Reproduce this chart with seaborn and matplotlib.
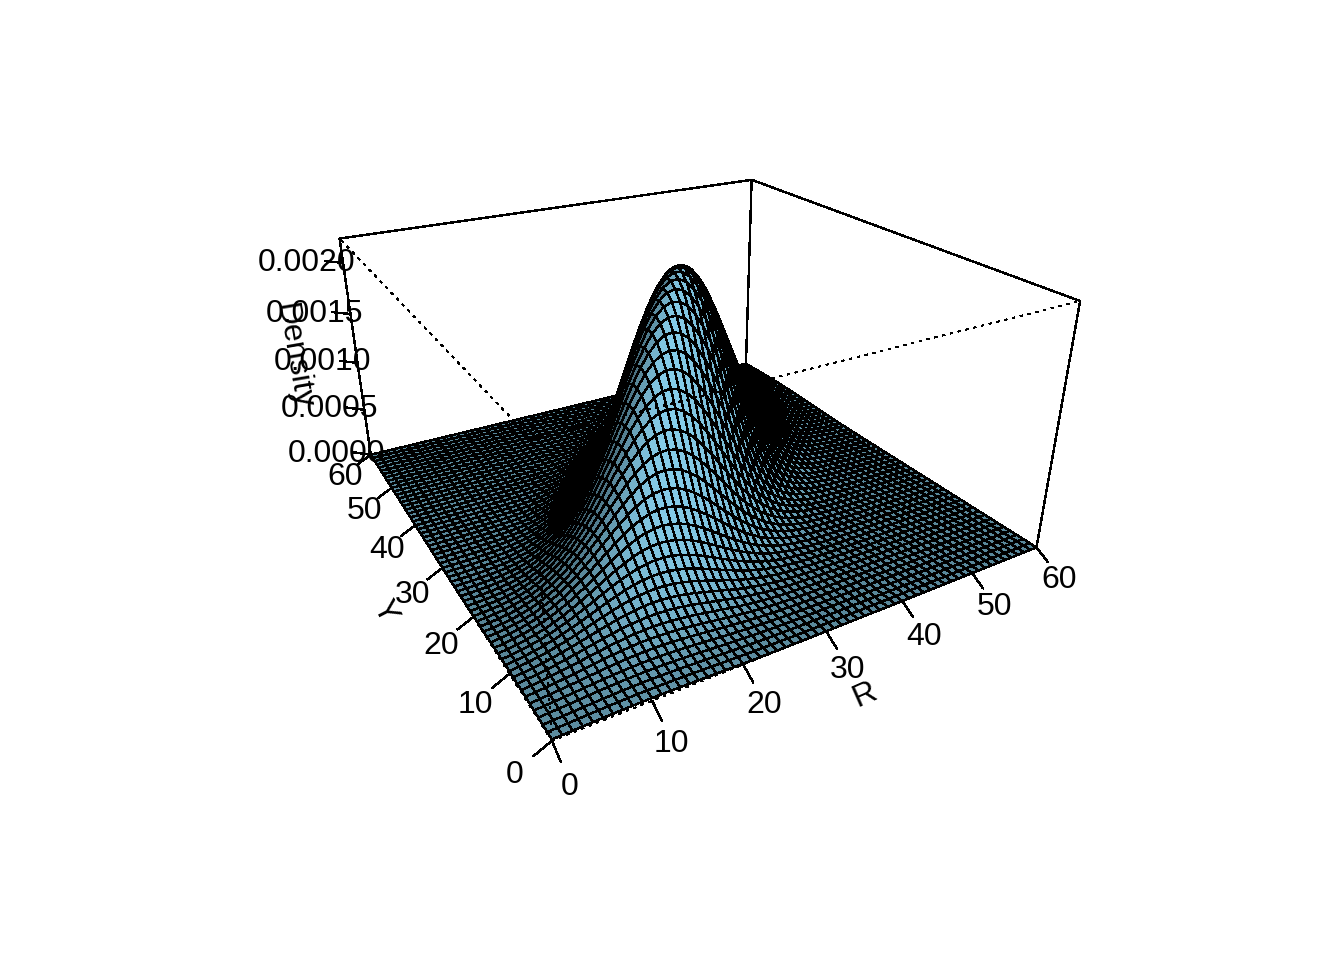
import numpy as np
import matplotlib
matplotlib.use('Agg')
import matplotlib.pyplot as plt
import seaborn as sns
from mpl_toolkits.mplot3d import proj3d

# density, relative to the peak at R = Y = 30:
# along the ridge by |R + Y - 60|, across the ridge by |R - Y|
along_ridge = [1.000, .9985, .9941, .9868, .9767, .9639, .9484, .9305, .9102, .8877, .8633, .8371, .8094, .7802, .7499, .7186,
               .6866, .6538, .6210, .5881, .5553, .5228, .4908, .4594, .4287, .3989, .3700, .3423, .3157, .2903, .2662, .2434,
               .2218, .2016, .1827, .1650, .1487, .1335, .1196, .1068, .0951, .0844, .0747, .0659, .0580, .0509, .0445, .0388,
               .0338, .0293, .0253, .0218, .0187, .0161, .0137, .0117, .0099, .0084, .0071, .0060, .0050]
across_ridge = [1.000, .9917, .9672, .9277, .8752, .8119, .7408, .6647, .5866, .5092, .4346, .3649, .3012, .2445, .1953, .1534,
                .1185, .0900, .0672, .0494, .0357, .0253, .0177, .0122, .0082, .0055, .0036, .0023, .0015, .0009, .0006, .0003,
                .0002, .0001, .0001, 0, 0, 0, 0, 0, 0, 0, 0, 0, 0, 0, 0, 0, 0, 0, 0, 0, 0, 0, 0, 0, 0, 0, 0, 0, 0]
peak_density = 0.00223

r_grid = list(range(0, 61))
y_grid = list(range(0, 61))
r_ticks = [0, 10, 20, 30, 40, 50, 60]
y_ticks = [0, 10, 20, 30, 40, 50, 60]
z_ticks = [0.0, 0.0005, 0.0010, 0.0015, 0.0020]
z_tick_labels = ['0.0000', '0.0005', '0.0010', '0.0015', '0.0020']

sns.set_theme(style='white')
plt.rcParams['font.family'] = ['Liberation Sans', 'DejaVu Sans']
plt.rcParams['text.color'] = 'black'
plt.rcParams['lines.antialiased'] = False

# view and box, same as persp(theta = -30, phi = 25)
Z_ASPECT = 0.4973
fig = plt.figure(figsize=(13.44, 9.6), dpi=100)
ax = fig.add_axes([296.5 / 1344, 190.8 / 960, 741.8 / 1344, 741.8 / 960], projection='3d', computed_zorder=False)
ax.set_xlim(0, 60)
ax.set_ylim(0, 60)
ax.set_zlim(0, peak_density)
ax.view_init(elev=25, azim=-120)
ax.set_proj_type('persp', focal_length=0.2544)
ax.set_box_aspect((1, 1, Z_ASPECT))
ax.set_axis_off()
M = ax.get_proj()

R, Y = np.meshgrid(r_grid, y_grid)
Z = peak_density * np.array(along_ridge)[np.abs(R + Y - 60)] * np.array(across_ridge)[np.abs(R - Y)]

# facet shading like persp: normals in box units, light from the front
dzdy, dzdx = np.gradient(Z / peak_density * Z_ASPECT, 1 / 60, 1 / 60)
norm = np.sqrt(dzdx ** 2 + dzdy ** 2 + 1)
light = np.array([0.0, -0.95, 0.32])
cosang = (-dzdx * light[0] - dzdy * light[1] + light[2]) / norm
shade = np.clip((1 + cosang) / 2, 0, 1)
base = np.array(matplotlib.colors.to_rgb('skyblue'))
fc = np.dstack([shade * base[0], shade * base[1], shade * base[2], np.ones_like(shade)])

surf = ax.plot_surface(R, Y, Z, rstride=1, cstride=1, facecolors=fc, shade=False, linewidth=1.0, zorder=2)
surf.set_edgecolor('black')
surf.set_antialiased(False)
surf.set_clip_on(False)

x0, x1 = r_grid[0], r_grid[-1]
y0, y1 = y_grid[0], y_grid[-1]
zt = peak_density
back = [((x0, y1, 0), (x0, y1, zt)), ((x0, y1, zt), (x1, y1, zt)), ((x1, y1, zt), (x1, y0, zt)),
        ((x1, y0, zt), (x1, y0, 0)), ((x1, y1, zt), (x1, y1, 0)), ((x0, y1, 0), (x1, y1, 0)), ((x1, y0, 0), (x1, y1, 0))]
front = [((x0, y0, zt), (x0, y1, zt)), ((x0, y0, zt), (x1, y0, zt)), ((x0, y0, 0), (x0, y0, zt)),
         ((x0, y0, 0), (x1, y0, 0)), ((x0, y0, 0), (x0, y1, 0))]
for a, b in back:
    ax.plot(*zip(a, b), color='black', lw=1.0, zorder=1, clip_on=False)
for a, b in front:
    ax.plot(*zip(a, b), color='black', lw=1.0, ls=(0, (2, 4)), zorder=3, clip_on=False)


# place a label at a 3D point, lying along the 3D direction d if one is given
def label(x, y, z, s, d=None):
    vx, vy, _ = proj3d.proj_transform(x, y, z, M)
    angle = 0
    if d is not None:
        wx, wy, _ = proj3d.proj_transform(x + d[0], y + d[1], z + d[2], M)
        angle = np.degrees(np.arctan2(wy - vy, wx - vx))
    ax.text2D(vx, vy, s, transform=ax.transData, rotation=angle, rotation_mode='anchor',
              ha='center', va='center_baseline', fontsize=23, zorder=5)


# ticks: tick length 3% of the ranges, labels at twice that, titles further out
dx, dy, dz = 0.03 * (x1 - x0), 0.03 * (y1 - y0), 0.03 * zt
for t in r_ticks:
    ax.plot([t, t], [y0, y0 - dy], [0, -dz], color='black', lw=1.0, zorder=4, clip_on=False)
    label(t, y0 - 2 * dy, -2 * dz, str(t))
for t in y_ticks:
    ax.plot([x0, x0 - dx], [t, t], [0, -dz], color='black', lw=1.0, zorder=4, clip_on=False)
    label(x0 - 2 * dx, t, -2 * dz, str(t))
for t, lab in zip(z_ticks, z_tick_labels):
    ax.plot([x0, x0 - dx], [y1, y1 + dy], [t, t], color='black', lw=1.0, zorder=4, clip_on=False)
    label(x0 - 2 * dx, y1 + 2 * dy, t, lab)
label(30, y0 - 3.45 * dy, -3.45 * dz, 'R', d=(1, 0, 0))
label(x0 - 3.6 * dx, 30, -3.6 * dz, 'Y', d=(0, -1, 0))
label(x0 - 3.5 * dx, y1 + 3.5 * dy, 0.45 * zt, 'Density', d=(0, 0, -0.0001))

fig.savefig('out.png', dpi=100)
